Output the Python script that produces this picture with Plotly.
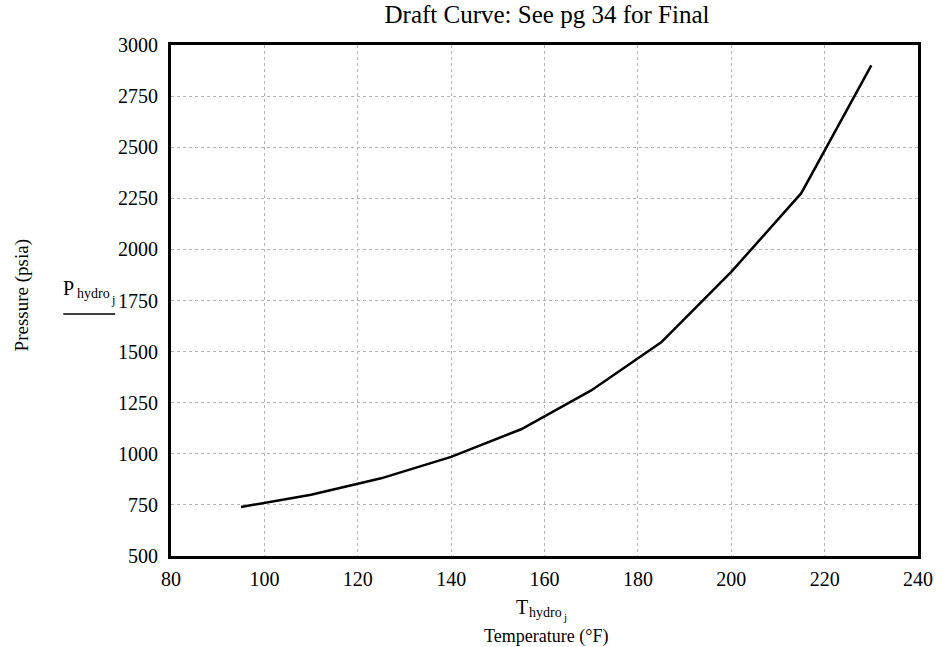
import plotly.graph_objects as go

# Data
temperature_F = [95, 110, 125, 140, 155, 170, 185, 200, 215, 230]
pressure_psia = [740, 800, 880, 985, 1120, 1310, 1545, 1890, 2275, 2900]

x_ticks = [80, 100, 120, 140, 160, 180, 200, 220, 240]
y_ticks = [500, 750, 1000, 1250, 1500, 1750, 2000, 2250, 2500, 2750, 3000]

W, H = 945, 647
L, R, T, B = 171, 25, 45, 91
PW, PH = W - L - R, H - T - B

def px(xp):
    return (xp - L) / PW

def py(yp):
    return (H - B - yp) / PH

FONT = "Liberation Serif"

fig = go.Figure()
fig.add_trace(go.Scatter(
    x=temperature_F, y=pressure_psia, mode="lines",
    line=dict(color="black", width=2.5), showlegend=False,
))

axis_common = dict(
    showline=True, linecolor="black", linewidth=3, mirror=True,
    showgrid=True, gridcolor="#b4b4b4", gridwidth=1, griddash="dot",
    zeroline=False, ticks="",
    tickfont=dict(family=FONT, size=20, color="black"),
)

fig.update_layout(
    width=W, height=H,
    margin=dict(l=L, r=R, t=T, b=B),
    paper_bgcolor="white", plot_bgcolor="white",
    title=dict(text="Draft Curve: See pg 34 for Final", xref="container", x=547 / W,
               xanchor="center", yref="container", y=1 - 14 / H, yanchor="middle",
               font=dict(family=FONT, size=25, color="black")),
    xaxis=dict(range=[80, 240], tickvals=x_ticks, ticklabelstandoff=3, **axis_common),
    yaxis=dict(range=[500, 3000], tickvals=y_ticks, ticklabelstandoff=6, **axis_common),
)

def label(text, x, y, size, **kw):
    return dict(text=text, xref="paper", yref="paper", x=px(x), y=py(y),
                showarrow=False, xanchor=kw.pop("xanchor", "left"), yanchor="middle",
                borderpad=0, font=dict(family=FONT, size=size, color="black"), **kw)

ann = [
    label("Pressure (psia)", 22, 295, 19, xanchor="center", textangle=-90),
    # P_hydro_j
    label("P", 62, 288, 20),
    label("hydro", 76, 293, 14),
    label("j", 110, 300, 12),
    # T_hydro_j
    label("T", 516, 607, 20),
    label("hydro", 529, 612, 14),
    label("j", 563, 617, 11),
    label("Temperature (°F)", 547, 636, 18, xanchor="center"),
]
fig.update_layout(annotations=ann)

fig.add_shape(type="line", xref="paper", yref="paper",
              x0=px(63), x1=px(115), y0=py(314), y1=py(314),
              line=dict(color="black", width=1.5))

fig.write_html("out.html")
